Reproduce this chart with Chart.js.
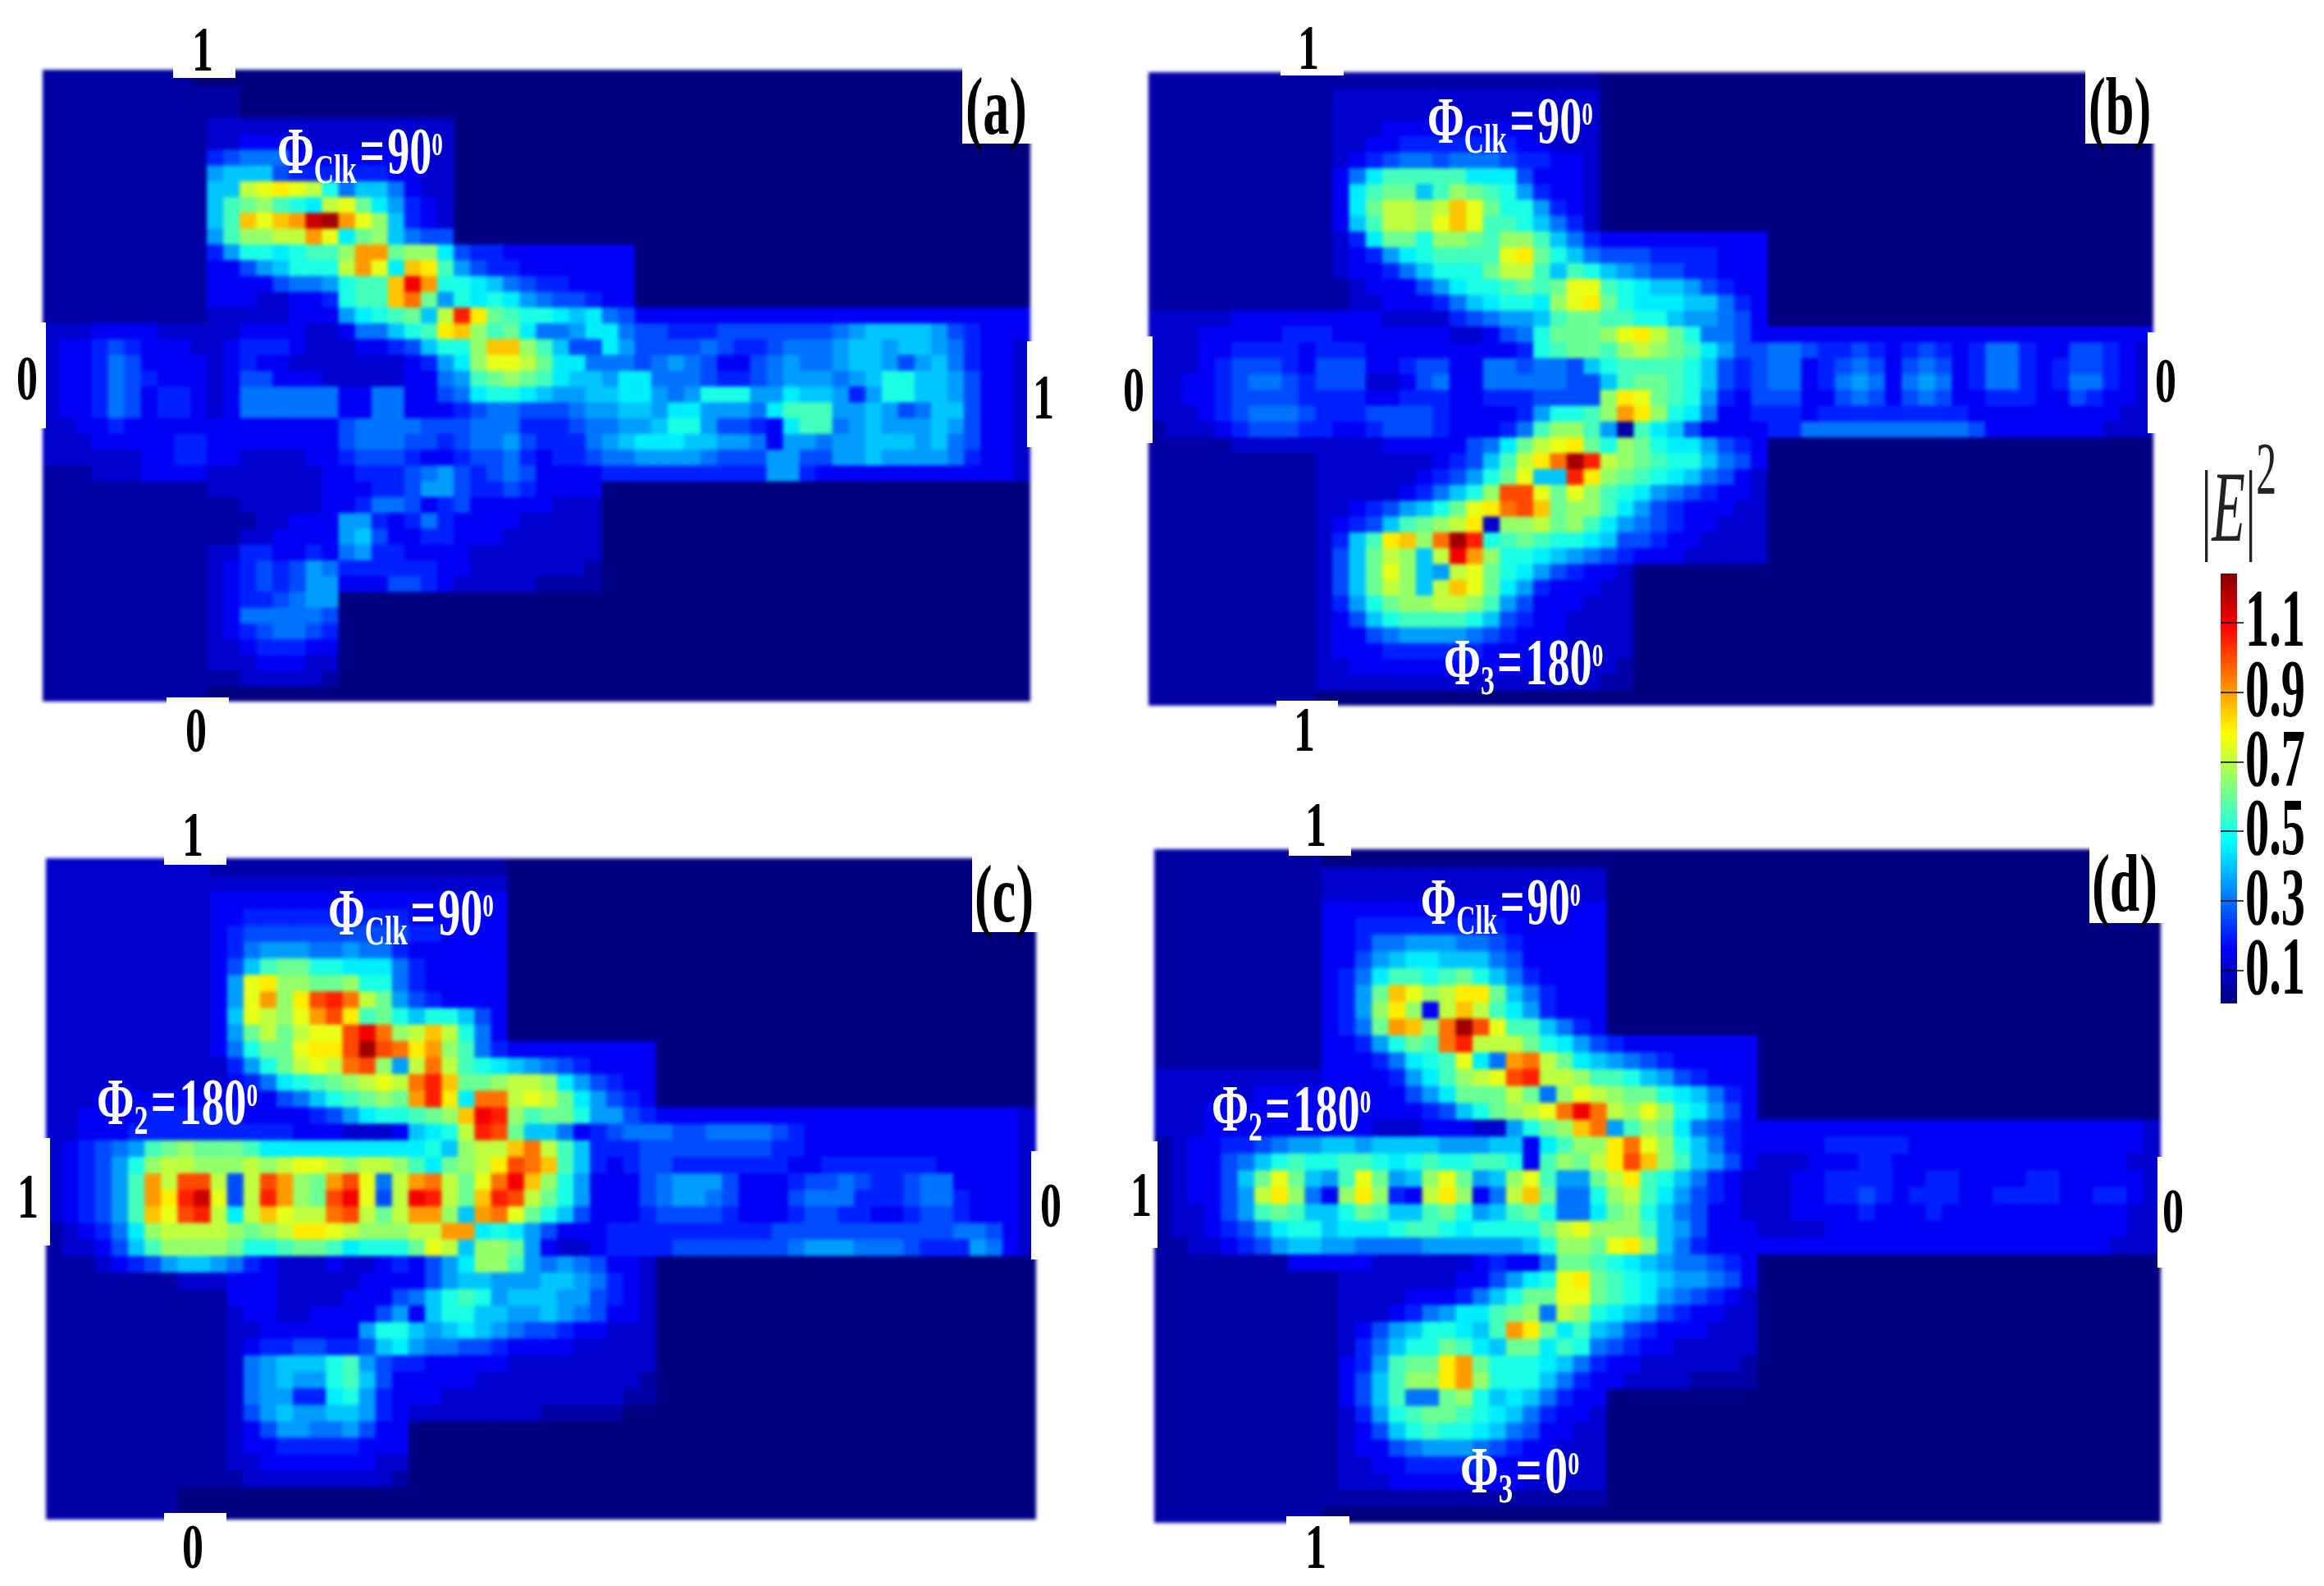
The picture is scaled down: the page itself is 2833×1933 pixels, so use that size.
<!DOCTYPE html>
<html>
<head>
<meta charset="utf-8">
<title>|E|^2 field maps</title>
<script src="https://cdn.jsdelivr.net/npm/chart.js@4"></script>
<style>
  html, body { margin: 0; padding: 0; background: #fff; width: 2833px; height: 1933px; overflow: hidden; }
  canvas { position: absolute; }
  .heat { filter: blur(2px); }
  .box { position: absolute; background: #fff; }
  .txt { position: absolute; white-space: nowrap; line-height: 1; font-family: "Liberation Serif", serif; font-weight: bold; transform-origin: left center; }
  .txt span { display: inline-block; }
</style>
</head>
<body>
<script>
// each row is one line of the field map, 60 cells, one character per cell
// characters are base 36 steps of 0.05 in |E|^2 (0 = 0.0, a = 0.5, o = 1.2), missing cells at the end are 0
const panelA = [
"1111111110",
"1111111111 11",
"1111111111 11",
"1111111111 2222222222 22222",
"1111111111 2233322222 22222",
"1111111111 4566633333 33322",
"1111111111 7888544444 43322",
"1111111111 88efgfea68 86322",
"1111111111 8bcdba9efc 97432",
"1111111111 8bhfhinoif d8432",
"1111111111 7bddeeif9c d8655",
"1111111111 47aa9abbdi icdd954433 333333",
"1111111111 33578aaaei f9hgb75443 333333",
"1111111111 33335667ab bhmiaa9865 443333",
"1111111111 33322334ab bhjc7a9a97 655433",
"1111111111 2222233379 abc8elgcba a989653333 3333333333 3333333333",
"2223333222 2233332236 68abghdbc9 6679965544 4555555567 8888754333",
"2334543332 2344432223 3458aadhhd b855975555 6544566678 8788764332",
"2334653333 2343322222 223479dffe c996665676 5335676678 8757864332",
"2334654333 2355333222 223367bcdc b988799666 5445677767 8aa8875332",
"2334653443 2366666633 6633569aa9 8778899767 aaa7798874 7aa8875332",
"2334653443 2366666633 6633345665 5567788799 7776 9bbb77 8756885332",
"2233433333 3333333356 6665556664 4456677 8aa 7554 39bb67 8777875332",
"2223333344 3333333356 6655456675 4446789998 8776377677 8887865332",
"2222223344 3322223345 5543345564 3445667777 6555775577 8777764332",
"1112223333 2222222334 4456754565 3333444444 4444774333 3333333332",
"1111111111 2222222333 4457754454 3333",
"1111111111 1122222334 6653453333 3222",
"1111111111 1112233377 4346433332 2222",
"1111111111 1122333378 5334433322 2222",
"1111111111 2244334367 4433332222 2222",
"1111111111 2345457644 4444332222 2221",
"1111111111 2345457733 3554322222 1111",
"1111111111 23445677",
"1111111111 23666665",
"1111111111 23456654",
"1111111111 22344433",
"1111111111 22233322",
"1111111111 11222221",
"1111111111"
];

const panelB = [
"1111111111 1111111111 1111111",
"1111111111 1222222222 2222222",
"1111111111 1222222222 2222222",
"1111111111 1222333333 3332222",
"1111111111 1223344444 4433222",
"1111111111 1234566566 6544332",
"1111111111 1369bbbbb9 9953332",
"1111111111 139bcc8bdc ba74332",
"1111111111 139ceedehf caa7432",
"1111111111 138beedfhf bba8642",
"1111111111 1249ccaddc bddb864333 3333333",
"1111111111 123479abbb bfgca86555 4444333",
"1111111111 1233468aaa ceeb8ba876 5544333",
"1111111111 112333579a abcbcffba9 8875433",
"1111111111 1122333468 9aa9dfgca9 9988643",
"2222233333 3333222245 6778bccbba a877653",
"2223333344 4333333322 356acccdfg eca6653333 3333333333 3333333333",
"2223344443 4443333333 334abccbde dcb9755665 4454345434 6643355432",
"2223455543 5553345533 6656658abb bba8545663 4565356534 6643455432",
"2233456654 5552235633 66666558bc cba8545663 4676367634 6643466432",
"2233455554 4443344433 4445555dgf cba7435553 3565356533 4443354332",
"2223456665 4445555433 3347aabdig da96334443 4444444443 3333333322",
"1222345554 4334555433 346bddb71b 9853333446 6666666665 3333333222",
"1111122222 2222333335 69cefgcadc a997543",
"1111111111 2222222345 8begjoledc baa8653",
"1111111111 2222223457 acf88lgdcb a986532",
"1111111111 222223468a dkkfcfdba9 7654332",
"1111111111 2234578acf gjkhcddb97 5433322",
"1111111111 23458bcdeg 2ddecdb976 5433222",
"1111111111 248bghdjol abcbaa9855 4332222",
"1111111111 258ced8emi daa9876543 3322222",
"1111111111 258cfd87ef ca97543320",
"1111111111 258ced8ehf c974333220",
"1111111111 247acddeed b753332220",
"1111111111 2358abbbba 8543322220",
"1111111111 2335677776 5433322220",
"1111111111 2333444444 3333322220",
"1111111111 2233333333 3333222210",
"1111111111 2222222222 2222222110",
"1111111111"
];

const panelC = [
"2222222222 1111111111 11111111",
"2222222222 2222222222 22222222",
"2222222222 3333333333 33333333",
"2222222222 3344444444 44333333",
"2222222222 3455555555 55443333",
"2222222222 3467776676 64333333",
"2222222222 358bccaa99 96433333",
"2222222222 37fgddccda a6433333",
"2222222222 37fidgklje c7543333",
"2222222222 38fedfikgb ca8aa853",
"2222222222 37ceceffkm jdehea63",
"2222222222 36accfggko kjgidb6433 3333333",
"2222222222 247acefejk d7ejeba987 6543333",
"2222222222 23469abcde fejlhccdee d975433",
"2223333333 3333568abc dcilg9jjef ec97543",
"2233334444 4433334579 aabcdhmldb cca7754333 3333333333 3333333332",
"2233344444 4444433322 2389aelkc8 8634566655 6666543333 3333333332",
"234567bcdc ccb9999999 999a8deehj eb84445555 5555443333 3333333332",
"23457adeed ddedeffede edb9cdegkj hb84345544 4444433444 4444333332",
"23457biekk e5ekidcikf 6eijecfjmh da73335677 7533345565 4456633332",
"23457bigln f5elidckmf 5emlechlke ca73335677 6533356664 4456643332",
"23457bhfkl e9ehfeejke ceiid8ijfc a853334555 5433345544 3345543332",
"123469deee edcdeggfed ddeeii9a97 5333444444 4444555555 5555566532",
"122358bddd dcaabccb9a aacfe8ddc7 3223444455 5555567776 6654447632",
"1112345788 7643222322 343579ddb7 6765332",
"1111111122 2333222223 3335788777 8876432",
"1111111111 1333222233 3568aba788 8775432",
"1111111111 1233223333 5738aa8877 8765332",
"1111111111 1223333337 aa87898765 5433222",
"1111111111 1234455445 8976655433 3322222",
"1111111111 1267888ab7 5443333322 2222222",
"1111111111 1267877ab8 5333332222 2222221",
"1111111111 12677449a7 4333222222 2222211",
"1111111111 1257877887 4322222222 11111",
"1111111111 1235776675 33",
"1111111111 1233444443 33",
"1111111111 1223333333 22",
"1111111111 1122222222 21",
"1111111100",
"1111111100"
];

const panelD = [
"1111111111",
"1111111111 2222222222 2222222",
"1111111111 2222222222 2222222",
"1111111111 3333333333 3333333",
"1111111111 3344444444 4333333",
"1111111111 3346677766 5433333",
"1111111111 3357899888 6533333",
"1111111111 3469bbabca 8643333",
"1111111111 347chfdegg c864333",
"1111111111 347dgd3ehe b974333",
"1111111111 346cihdjok fbb8643",
"1111111111 3347acbjle eeca975433 333333",
"1111111111 333469abf9 6ijec98765 433333",
"2222222222 3333479bde fkleedbba8 754333",
"2222223333 33333579cc cec6dfedcc a98643",
"2223333333 333333458a cdefjmjedf da9753",
"2223333333 3332223332 27acdhj7bd c965433333 3333333333 3333333332",
"1233445677 8878888777 8839bddgjf da86433333 4444433333 3333333332",
"1233568aba abba9abaab ba3bdcegkh db87532223 3344333333 3333333322",
"123358cfc8 7bfc78dfc7 8dfb77cegb a864322233 4444334433 3344333332",
"123357egd6 3dgd43egd3 6ehc66adeb 9754322233 4454344433 4444334432",
"122357bcb8 8acb88bca7 8bca669cda 8653322233 3343334333 3333333322",
"12234579aa 8999abba9a aaacefdddb 8753332222 3333333333 3333333322",
"1122345788 7766667777 778addcfgd 8643333333 3333333333 3333333222",
"1111111133 3332222223 4336ccba98 766543",
"1111111111 1222222233 579afgcba9 877653",
"1111111111 1222233346 8accffcba9 765432",
"1111111111 1222346799 bcd6eda987 543322",
"1111111111 123578aa98 bigc9b8754 333222",
"1111111111 12468aacb9 8cc9ba6543 322222",
"1111111111 1347bccgic aaa9864332 222221",
"1111111111 1358bddgid aaa8643322 221111",
"1111111111 1358b66cda 8986433",
"1111111111 1247abccba 9864332",
"1111111111 12358abaa9 8653322",
"1111111111 1233567776 5433222",
"1111111111 1223344444 3333222",
"1111111111 1222333333 3322222",
"1111111111 1111111111 1111111",
"1111111111"
];

const colorbarTicks = [0.1, 0.3, 0.5, 0.7, 0.9, 1.1];
const colorMin = 0.005;
const colorMax = 1.242;

// jet colour map
function jet(v) {
  var t = Math.max(0, Math.min(1, (v - colorMin) / (colorMax - colorMin)));
  var part = function (c) { return Math.round(255 * Math.max(0, Math.min(1, 1.5 - Math.abs(4 * t - c)))); };
  return 'rgb(' + part(3) + ',' + part(2) + ',' + part(1) + ')';
}

function parseRows(rows) {
  return rows.map(function (row) {
    var cells = row.replace(/ /g, '').padEnd(60, '0').split('');
    return cells.map(function (c) { return parseInt(c, 36) * 0.05; });
  });
}

function makeCanvas(left, top, width, height, cls) {
  var c = document.createElement('canvas');
  c.width = width;
  c.height = height;
  c.style.left = left + 'px';
  c.style.top = top + 'px';
  c.style.width = width + 'px';
  c.style.height = height + 'px';
  if (cls) c.className = cls;
  document.body.appendChild(c);
  return c;
}

function drawPanel(rows, left, top, width, height) {
  var grid = parseRows(rows);
  var labels = grid[0].map(function (_, i) { return i; });
  // one floating bar series per row, slightly overlapped so no seams show
  var datasets = grid.map(function (vals, r) {
    return {
      data: vals.map(function () { return [r, r + 1.06]; }),
      backgroundColor: vals.map(jet),
      borderWidth: 0,
      barPercentage: 1.06,
      categoryPercentage: 1,
      grouped: false
    };
  });
  new Chart(makeCanvas(left, top, width, height, 'heat'), {
    type: 'bar',
    data: { labels: labels, datasets: datasets },
    options: {
      responsive: false,
      animation: false,
      layout: { padding: 0 },
      plugins: { legend: { display: false }, tooltip: { enabled: false } },
      scales: {
        x: { display: false },
        y: { display: false, reverse: true, min: 0, max: grid.length }
      }
    }
  });
}

function box(x0, y0, x1, y1) {
  var d = document.createElement('div');
  d.className = 'box';
  d.style.cssText = 'left:' + x0 + 'px;top:' + y0 + 'px;width:' + (x1 - x0) + 'px;height:' + (y1 - y0) + 'px';
  document.body.appendChild(d);
}

// text squeezed to the width it has in the picture
function text(html, x0, x1, yc, size, color, extra) {
  var d = document.createElement('div');
  d.className = 'txt';
  d.innerHTML = html;
  d.style.fontSize = size + 'px';
  d.style.color = color;
  if (extra) d.style.fontWeight = extra;
  document.body.appendChild(d);
  d.style.left = x0 + 'px';
  d.style.top = (yc - d.offsetHeight / 2) + 'px';
  d.style.transform = 'scaleX(' + ((x1 - x0) / d.offsetWidth) + ')';
}

function phase(sub, val) {
  return 'Φ<span style="font-size:.62em;position:relative;top:.24em">' + sub + '</span>' +
    '<span style="margin:0 .06em">=</span>' + val +
    '<span style="font-size:.5em;position:relative;top:-.55em">0</span>';
}

drawPanel(panelA, 52, 85, 1204, 770);
drawPanel(panelB, 1400, 88, 1225, 772);
drawPanel(panelC, 56, 1046, 1207, 806);
drawPanel(panelD, 1407, 1035, 1227, 821);

// white notches and corner boxes over the maps
box(211, 78, 287, 95); box(203, 850, 279, 862); box(46, 393, 56, 522); box(1252, 416, 1262, 545); box(1173, 78, 1262, 175);
box(1561, 82, 1638, 92); box(1556, 854, 1631, 866); box(1394, 410, 1405, 540); box(2618, 405, 2631, 528); box(2542, 82, 2631, 175);
box(200, 1040, 276, 1054); box(200, 1844, 276, 1858); box(50, 1387, 61, 1518); box(1257, 1403, 1270, 1535); box(1185, 1040, 1270, 1136);
box(1571, 1029, 1647, 1043); box(1568, 1848, 1645, 1862); box(1401, 1391, 1411, 1521); box(2630, 1410, 2640, 1545); box(2547, 1029, 2640, 1125);

// port values around the panels
var digits = [
  ['1', 247, 60], ['0', 239, 890], ['0', 33, 461], ['1', 1272, 484],
  ['1', 1595, 58], ['1', 1590, 889], ['0', 1382, 475], ['0', 2640, 464],
  ['1', 235, 1017], ['0', 235, 1885], ['1', 34, 1458], ['0', 1281, 1469],
  ['1', 1604, 1005], ['1', 1604, 1885], ['1', 1391, 1456], ['0', 2649, 1476]
];
digits.forEach(function (d) {
  text(d[0], d[1] - 13, d[1] + 13, d[2], 78, '#000');
});

text('(a)', 1177, 1252, 130, 100, '#000');
text('(b)', 2546, 2622, 130, 100, '#000');
text('(c)', 1188, 1260, 1090, 100, '#000');
text('(d)', 2550, 2630, 1077, 100, '#000');

text(phase('Clk', '90'), 338, 540, 184, 80, '#fff');
text(phase('Clk', '90'), 1740, 1942, 147, 80, '#fff');
text(phase('3', '180'), 1760, 1954, 807, 80, '#fff');
text(phase('Clk', '90'), 400, 602, 1112, 80, '#fff');
text(phase('2', '180'), 118, 314, 1343, 80, '#fff');
text(phase('Clk', '90'), 1732, 1927, 1099, 80, '#fff');
text(phase('2', '180'), 1477, 1671, 1351, 80, '#fff');
text(phase('3', '0'), 1780, 1925, 1792, 80, '#fff');

// colour bar
var barTop = 699, barHeight = 524;
var levels = [];
for (var v = colorMin; v < colorMax; v += 0.01) levels.push(v);
var barChart = new Chart(makeCanvas(2707, barTop, 28, barHeight), {
  type: 'bar',
  data: {
    labels: [''],
    datasets: levels.map(function (l) {
      return { data: [[l, l + 0.012]], backgroundColor: jet(l + 0.005), borderWidth: 0, barPercentage: 1, categoryPercentage: 1, grouped: false };
    })
  },
  options: {
    responsive: false,
    animation: false,
    layout: { padding: 0 },
    plugins: { legend: { display: false }, tooltip: { enabled: false } },
    scales: {
      x: { display: false },
      y: {
        position: 'right',
        min: colorMin,
        max: colorMax,
        afterBuildTicks: function (axis) { axis.ticks = colorbarTicks.map(function (t) { return { value: t }; }); },
        ticks: { display: false },
        border: { display: false },
        grid: { color: 'rgba(0,0,0,0.75)', lineWidth: 2, tickLength: 8, z: 1 }
      }
    }
  }
});
colorbarTicks.forEach(function (t) {
  var y = barTop + barChart.scales.y.getPixelForValue(t);
  text(t.toFixed(1), 2737, 2810, y - 5, 100, '#000');
});

text('|<i>E</i>|<span style="font-size:.75em;position:relative;top:-.62em">2</span>', 2683, 2775, 618, 122, '#222', 'normal');
</script>
</body>
</html>
